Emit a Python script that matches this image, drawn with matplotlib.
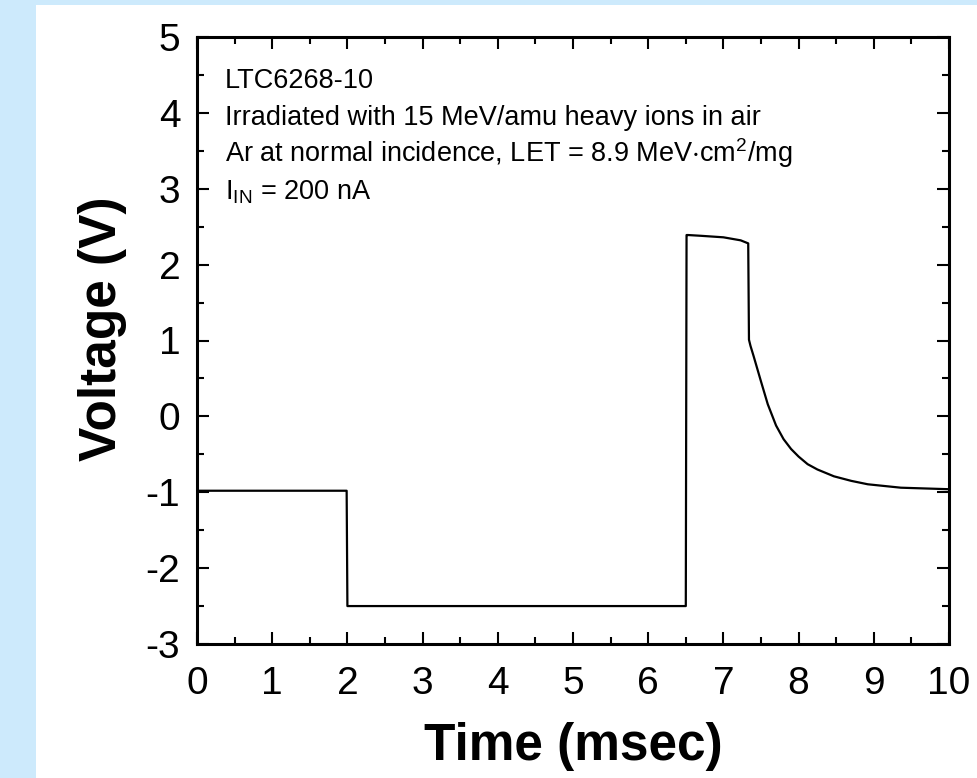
import numpy as np
import matplotlib.pyplot as plt
from matplotlib.patches import Rectangle
from matplotlib.ticker import MultipleLocator

# trace (time in msec, voltage in V)
time_ms = [0.0, 1.99, 2.0, 6.50, 6.51, 6.53, 6.70, 7.00, 7.23, 7.33, 7.34,
           7.36, 7.40, 7.45, 7.50, 7.59, 7.70, 7.80, 7.90, 8.00, 8.12, 8.25,
           8.47, 8.70, 8.92, 9.36, 10.0]
voltage = [-0.98, -0.98, -2.50, -2.50, 2.39, 2.39, 2.38, 2.36, 2.32, 2.28, 1.01,
           0.93, 0.80, 0.63, 0.46, 0.16, -0.12, -0.30, -0.43, -0.53, -0.63, -0.70,
           -0.79, -0.85, -0.895, -0.94, -0.96]

x_ticks = list(range(0, 11))
y_ticks = list(range(-3, 6))

notes = ['LTC6268-10',
         'Irradiated with 15 MeV/amu heavy ions in air',
         r'Ar at normal incidence, LET = 8.9 MeV$\cdot$cm$^{2}$/mg',
         r'I$_{\mathregular{IN}}$ = 200 nA']

plt.rcParams['font.family'] = ['Liberation Sans', 'DejaVu Sans']
plt.rcParams['mathtext.fontset'] = 'custom'
plt.rcParams['mathtext.rm'] = 'Liberation Sans'
plt.rcParams['mathtext.it'] = 'Liberation Sans'
plt.rcParams['mathtext.default'] = 'regular'
plt.rcParams['axes.unicode_minus'] = False

fig = plt.figure(figsize=(9.77, 7.78), dpi=100, facecolor='#cdeafc')
# white panel sitting on the light blue page
fig.patches.append(Rectangle((36 / 977, 0), 1 - 36 / 977, 773 / 778,
                             transform=fig.transFigure, facecolor='white',
                             edgecolor='none', zorder=-1))

ax = fig.add_axes([197 / 977, 134 / 778, 752 / 977, 607 / 778])
ax.set_facecolor('white')
ax.plot(time_ms, voltage, color='black', lw=1.6)

ax.set_xlim(0, 10)
ax.set_ylim(-3, 5)
ax.set_xticks(x_ticks)
ax.set_yticks(y_ticks)
ax.xaxis.set_minor_locator(MultipleLocator(0.5))
ax.yaxis.set_minor_locator(MultipleLocator(0.5))
ax.tick_params(which='both', direction='in', top=True, right=True, width=1.5,
               labelsize=28)
ax.tick_params(which='major', length=8.5)
ax.tick_params(which='minor', length=5)
ax.tick_params(axis='x', pad=16)
ax.tick_params(axis='y', pad=12)
for sp in ax.spines.values():
    sp.set_linewidth(2.2)

ax.set_xlabel('Time (msec)', fontsize=37, fontweight='bold')
ax.set_ylabel('Voltage (V)', fontsize=37, fontweight='bold')
ax.xaxis.set_label_coords(0.5, -0.1285)
ax.yaxis.set_label_coords(-0.093, 0.519)

y0 = 4.33
for i, line in enumerate(notes):
    ax.text(0.37, y0 - i * 0.49, line, fontsize=19.5, va='baseline', ha='left')

fig.savefig('out.png', dpi=100, facecolor=fig.get_facecolor())
